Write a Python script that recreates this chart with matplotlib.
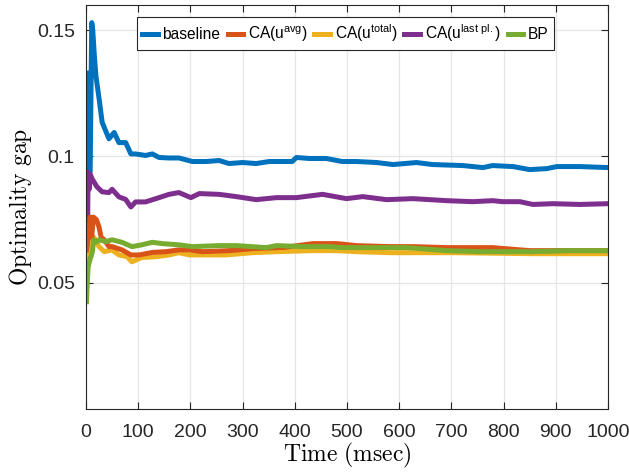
import matplotlib
matplotlib.use('Agg')
import matplotlib.pyplot as plt

# ---- data (time in msec, optimality gap) ----
t_base = [1, 3, 5, 8, 11, 13, 16, 19, 25, 31, 38, 44, 54, 63, 76, 86, 95, 114, 127, 140,
          159, 178, 204, 230, 255, 274, 300, 326, 351, 376, 395, 403, 428, 460, 491, 518,
          557, 588, 633, 664, 722, 760, 779, 818, 850, 883, 902, 946, 1000]
v_base = [0.133, 0.094, 0.095, 0.094, 0.153, 0.150, 0.140, 0.132, 0.123, 0.1135, 0.110,
          0.107, 0.1095, 0.1055, 0.1055, 0.101, 0.101, 0.1004, 0.101, 0.0996,
          0.0994, 0.0994, 0.098, 0.098, 0.0984, 0.0972, 0.0976, 0.0972, 0.098, 0.098,
          0.098, 0.0996, 0.0992, 0.0992, 0.098, 0.098, 0.0976, 0.0968, 0.0976, 0.0968,
          0.0964, 0.0956, 0.0964, 0.096, 0.0948, 0.0952, 0.096, 0.096, 0.0956]

t_avg = [1, 3, 5, 8, 11, 14, 20, 25, 29, 35, 44, 50, 69, 86, 102, 127, 153, 178, 198,
         223, 274, 320, 380, 435, 480, 518, 582, 626, 691, 779, 850, 1000]
v_avg = [0.063, 0.066, 0.070, 0.076, 0.068, 0.076, 0.075, 0.072, 0.068, 0.067, 0.0643,
         0.0643, 0.063, 0.061, 0.061, 0.062, 0.0623, 0.063, 0.063, 0.0623, 0.0627,
         0.0635, 0.064, 0.0655, 0.0655, 0.0647, 0.0643, 0.0643, 0.0639, 0.0639,
         0.0627, 0.0627]

t_total = [1, 3, 6, 10, 15, 25, 35, 50, 63, 79, 88, 107, 134, 159, 178, 198, 268, 319,
           365, 434, 480, 518, 582, 700, 856, 1000]
v_total = [0.058, 0.062, 0.064, 0.067, 0.068, 0.0643, 0.0623, 0.063, 0.061, 0.0603,
           0.0583, 0.060, 0.0603, 0.061, 0.0619, 0.061, 0.061, 0.0619, 0.0623, 0.0627,
           0.0627, 0.0623, 0.0619, 0.0619, 0.0615, 0.0615]

t_last = [1, 2, 3, 4, 6, 8, 12, 21, 31, 44, 50, 63, 76, 86, 95, 114, 140, 159, 178, 201,
          217, 255, 288, 326, 365, 403, 453, 499, 530, 576, 626, 691, 741, 779, 798, 831,
          856, 894, 946, 1000]
v_last = [0.062, 0.094, 0.070, 0.093, 0.087, 0.093, 0.091, 0.088, 0.086, 0.0857, 0.087,
          0.084, 0.083, 0.080, 0.082, 0.082, 0.0837, 0.085, 0.0857, 0.0837, 0.0853,
          0.085, 0.0841, 0.0829, 0.0837, 0.0837, 0.085, 0.0833, 0.0841, 0.0829, 0.0833,
          0.0825, 0.0821, 0.0825, 0.0821, 0.0821, 0.081, 0.0813, 0.081, 0.0813]

t_bp = [1, 2, 4, 6, 9, 12, 15, 19, 25, 38, 50, 69, 88, 107, 127, 146, 178, 204, 255,
        288, 345, 365, 415, 466, 491, 543, 582, 614, 691, 754, 856, 921, 1000]
v_bp = [0.0425, 0.048, 0.056, 0.058, 0.060, 0.062, 0.067, 0.066, 0.067, 0.0663, 0.067,
        0.066, 0.0643, 0.065, 0.066, 0.0655, 0.065, 0.0643, 0.0647, 0.0647, 0.0639,
        0.0647, 0.0643, 0.0643, 0.0639, 0.0639, 0.0639, 0.0639, 0.0627, 0.0623,
        0.0623, 0.0627, 0.0627]

labels = ['baseline', r'CA(u$^{\mathrm{avg}}$)', r'CA(u$^{\mathrm{total}}$)',
          r'CA(u$^{\mathrm{last\ pl.}}$)', 'BP']
colors = ['#0072BD', '#D95319', '#EDB120', '#7E2F8E', '#77AC30']

plt.rcParams['font.family'] = ['Liberation Sans', 'DejaVu Sans']
plt.rcParams['mathtext.fontset'] = 'custom'
plt.rcParams['mathtext.rm'] = 'Liberation Sans'

fig = plt.figure(figsize=(6.29, 4.72), dpi=100)
ax = fig.add_axes([0.1367, 0.1335, 0.830, 0.856])

series = [(t_base, v_base), (t_avg, v_avg), (t_total, v_total), (t_last, v_last), (t_bp, v_bp)]
# draw order: baseline, last pl., then the three close ones
for i in [0, 3, 2, 1, 4]:
    ax.plot(series[i][0], series[i][1], color=colors[i], lw=3.6, label=labels[i],
            solid_joinstyle='round')

handles, labs = ax.get_legend_handles_labels()
order = [labs.index(l) for l in labels]
leg = ax.legend([handles[k] for k in order], [labs[k] for k in order], ncol=5,
                loc='upper right', bbox_to_anchor=(0.897, 0.97), borderaxespad=0,
                fontsize=11.2, handlelength=1.0, handletextpad=0.3, columnspacing=0.45,
                borderpad=0.35, fancybox=False, framealpha=1, edgecolor='#262626')
leg.get_frame().set_linewidth(0.8)

ax.set_xlim(0, 1000)
ax.set_ylim(0, 0.16)
ax.set_xticks(range(0, 1001, 100))
ax.set_yticks([0.05, 0.1, 0.15])
ax.set_yticklabels(['0.05', '0.1', '0.15'])
ax.grid(True, color='#e6e6e6', lw=0.9)
ax.set_axisbelow(True)
for s in ax.spines.values():
    s.set_color('#262626')
    s.set_linewidth(0.8)
ax.tick_params(direction='in', top=True, right=True, length=5, width=0.8,
               colors='#262626', labelsize=14, pad=8)
ax.tick_params(axis='x', pad=11)

ax.set_xlabel(r'$\mathrm{Time\ (msec)}$', fontsize=17, math_fontfamily='cm', labelpad=0)
ax.set_ylabel(r'$\mathrm{Optimality\ gap}$', fontsize=17, math_fontfamily='cm', labelpad=2)

fig.savefig('out.png', dpi=100)
